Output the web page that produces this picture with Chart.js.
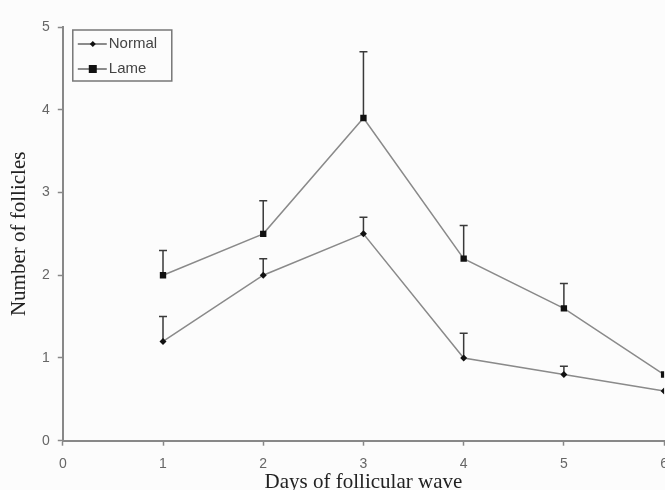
<!DOCTYPE html>
<html>
<head>
<meta charset="utf-8">
<script src="https://cdn.jsdelivr.net/npm/chart.js@4.4.1/dist/chart.umd.min.js"></script>
<style>
html,body{margin:0;padding:0;background:#fcfcfc;overflow:hidden;}
#wrap{width:678px;height:490px;}
</style>
</head>
<body>
<div id="wrap"><canvas id="c" width="678" height="490"></canvas></div>
<script>
const days = [1, 2, 3, 4, 5, 6];
const normalValues = [1.2, 2.0, 2.5, 1.0, 0.8, 0.6];
const normalErrors = [0.3, 0.2, 0.2, 0.3, 0.1, 0];
const lameValues = [2.0, 2.5, 3.9, 2.2, 1.6, 0.8];
const lameErrors = [0.3, 0.4, 0.8, 0.4, 0.3, 0];
const seriesNames = ['Normal', 'Lame'];
const xTicks = [0, 1, 2, 3, 4, 5, 6];
const yTicks = [0, 1, 2, 3, 4, 5];

const errorSets = [normalErrors, lameErrors];

const errorBars = {
  id: 'errorBars',
  beforeDatasetsDraw(chart) {
    const ctx = chart.ctx;
    const xs = chart.scales.x, ys = chart.scales.y;
    ctx.save();
    ctx.strokeStyle = '#3a3a3a';
    ctx.lineWidth = 1.5;
    chart.data.datasets.forEach((ds, i) => {
      const errs = errorSets[i];
      ds.data.forEach((p, j) => {
        if (!errs[j]) return;
        const x = xs.getPixelForValue(p.x);
        const y0 = ys.getPixelForValue(p.y);
        const y1 = ys.getPixelForValue(p.y + errs[j]);
        ctx.beginPath();
        ctx.moveTo(x, y0); ctx.lineTo(x, y1);
        ctx.moveTo(x - 4, y1); ctx.lineTo(x + 4, y1);
        ctx.stroke();
      });
    });
    ctx.restore();
  }
};

const boxLegend = {
  id: 'boxLegend',
  afterDraw(chart) {
    const ctx = chart.ctx;
    const a = chart.chartArea;
    const bx = a.left + 10, by = a.top + 3, bw = 99, bh = 51;
    ctx.save();
    ctx.strokeStyle = '#777';
    ctx.lineWidth = 1.5;
    ctx.strokeRect(bx, by, bw, bh);
    ctx.font = '15px "Liberation Sans", Arial, sans-serif';
    ctx.fillStyle = '#444';
    ctx.textBaseline = 'middle';
    const rows = [by + 14, by + 39];
    chart.data.datasets.forEach((ds, i) => {
      const yy = rows[i];
      ctx.strokeStyle = '#666';
      ctx.lineWidth = 1.5;
      ctx.beginPath(); ctx.moveTo(bx + 5, yy); ctx.lineTo(bx + 34, yy); ctx.stroke();
      ctx.fillStyle = '#111';
      const cx = bx + 20;
      if (i === 0) {
        ctx.beginPath();
        ctx.moveTo(cx, yy - 3); ctx.lineTo(cx + 3, yy); ctx.lineTo(cx, yy + 3); ctx.lineTo(cx - 3, yy);
        ctx.closePath(); ctx.fill();
      } else {
        ctx.fillRect(cx - 4, yy - 4, 8, 8);
      }
      ctx.fillStyle = '#444';
      ctx.fillText(seriesNames[i], bx + 36, yy);
    });
    ctx.restore();
  }
};

new Chart(document.getElementById('c'), {
  type: 'line',
  data: {
    datasets: [
      {
        label: seriesNames[0],
        data: days.map((d, i) => ({x: d, y: normalValues[i]})),
        borderColor: '#8a8a8a',
        borderWidth: 1.5,
        pointStyle: 'rectRot',
        pointRadius: 3.5,
        pointBackgroundColor: '#111',
        pointBorderColor: '#111',
        pointBorderWidth: 0,
        tension: 0
      },
      {
        label: seriesNames[1],
        data: days.map((d, i) => ({x: d, y: lameValues[i]})),
        borderColor: '#8a8a8a',
        borderWidth: 1.5,
        pointStyle: 'rect',
        pointRadius: 4.5,
        pointBackgroundColor: '#111',
        pointBorderColor: '#111',
        pointBorderWidth: 0,
        tension: 0
      }
    ]
  },
  options: {
    responsive: false,
    animation: false,
    layout: {padding: {top: 27, left: 9, right: 0, bottom: -2.5}},
    plugins: {legend: {display: false}, tooltip: {enabled: false}},
    scales: {
      x: {
        type: 'linear',
        min: 0, max: 6,
        afterBuildTicks: s => { s.ticks = xTicks.map(v => ({value: v})); },
        grid: {drawOnChartArea: false, drawTicks: true, tickLength: 5, color: '#888', tickWidth: 1.5},
        border: {display: true, color: '#888', width: 2},
        ticks: {color: '#666', font: {family: '"Liberation Sans", Arial, sans-serif', size: 14}, padding: 10, maxRotation: 0},
        title: {display: true, text: 'Days of follicular wave', color: '#222', font: {family: '"Liberation Serif", "Times New Roman", serif', size: 21, lineHeight: 1.0}, padding: {top: -11, bottom: 0}}
      },
      y: {
        type: 'linear',
        min: 0, max: 5,
        afterBuildTicks: s => { s.ticks = yTicks.map(v => ({value: v})); },
        grid: {drawOnChartArea: false, drawTicks: true, tickLength: 5, color: '#888', tickWidth: 1.5},
        border: {display: true, color: '#888', width: 2},
        ticks: {color: '#666', font: {family: '"Liberation Sans", Arial, sans-serif', size: 14}, padding: 8},
        title: {display: true, text: 'Number of follicles', color: '#222', font: {family: '"Liberation Serif", "Times New Roman", serif', size: 21, lineHeight: 1.0}, padding: {top: 0, bottom: 4}}
      }
    }
  },
  plugins: [errorBars, boxLegend]
});
</script>
</body>
</html>
